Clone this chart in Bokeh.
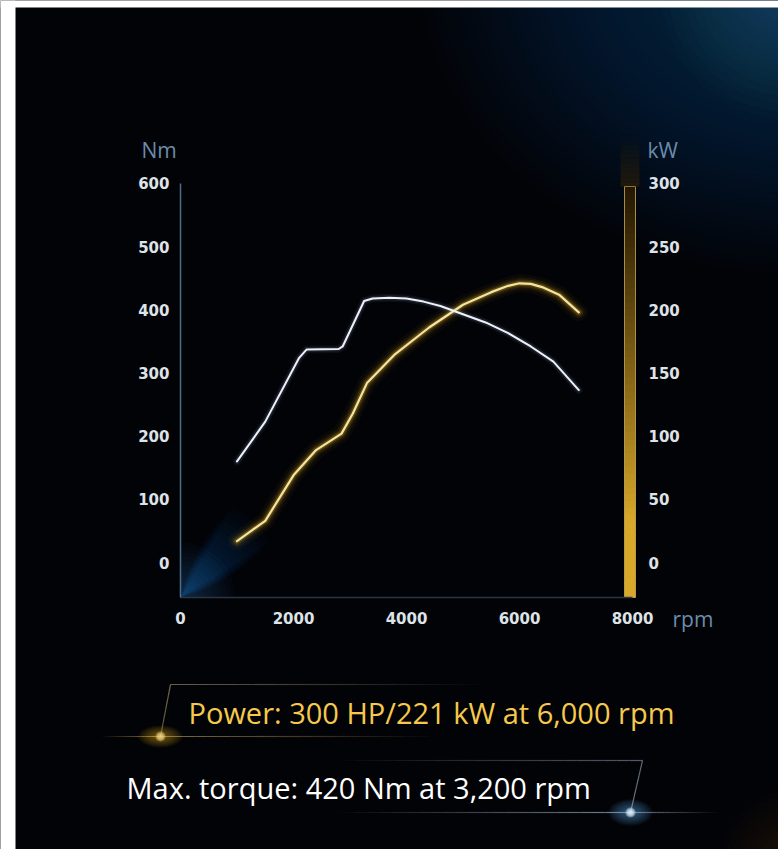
import numpy as np
from bokeh.plotting import figure
from bokeh.models import Range1d, LinearAxis, FixedTicker, Label
from bokeh.embed import file_html
from bokeh.resources import INLINE

# ---------------- data ----------------
torque_rpm = [1000, 1500, 2100, 2230, 2800, 2870, 3250, 3400, 3700, 4000, 4300, 4600, 5000, 5400, 5800, 6200, 6600, 7050]
torque_nm = [160, 223, 324, 337, 338, 342, 414, 418, 419, 418, 413, 406, 393, 380, 363, 342, 318, 273]

power_rpm = [1000, 1500, 2000, 2400, 2850, 3050, 3300, 3800, 4400, 5000, 5500, 5800, 6000, 6200, 6400, 6700, 7050]
power_kw = [17, 33, 69, 89, 102, 118, 142, 165, 186, 204, 214, 219, 221, 220.5, 218, 212, 198]

rpm_ticks = [0, 2000, 4000, 6000, 8000]
nm_ticks = [0, 100, 200, 300, 400, 500, 600]
kw_ticks = [0, 50, 100, 150, 200, 250, 300]

nm_title = "Nm"
kw_title = "kW"
rpm_title = "rpm"
power_text = "Power: 300 HP/221 kW at 6,000 rpm"
torque_text = "Max. torque: 420 Nm at 3,200 rpm"

# ---------------- geometry (page pixels -> data) ----------------
W, H = 778, 849
X_ORIG, PX_PER_RPM = 180.0, 0.0565
Y_ORIG, PX_PER_NM = 562.0, 0.6317
NM_PER_KW = 2.0


def dx(px):
    return (px - X_ORIG) / PX_PER_RPM


def dy(py):
    return (Y_ORIG - py) / PX_PER_NM


Y_AXIS_BOTTOM = dy(597)
BG = "#020307"

p = figure(width=W, height=H, title=None,
           x_range=Range1d(dx(0), dx(W)),
           y_range=Range1d(dy(H), dy(0)),
           output_backend="svg", toolbar_location=None,
           min_border=0, min_border_left=0, min_border_right=0,
           min_border_top=0, min_border_bottom=0,
           background_fill_color=BG, border_fill_color=BG,
           outline_line_color=None)
p.extra_y_ranges = {"kw": Range1d(dy(H) / NM_PER_KW, dy(0) / NM_PER_KW)}
p.grid.visible = False


def glow(px, py, color, rmax, n, alpha, rmin=6, aspect=1.0):
    rs = np.linspace(rmax, rmin, n)
    p.ellipse(x=[dx(px)] * n, y=[dy(py)] * n, width=list(2 * rs), height=list(2 * rs * aspect),
              width_units="screen", height_units="screen",
              fill_color=color, fill_alpha=alpha, line_color=None)


def fade_line(x0, y0, x1, y1, color, a0, a1, width=1.2, n=24):
    t = np.linspace(0, 1, n + 1)
    xs = x0 + (x1 - x0) * t
    ys = y0 + (y1 - y0) * t
    alphas = list(a0 + (a1 - a0) * (t[:-1] + t[1:]) / 2)
    p.segment(x0=[dx(v) for v in xs[:-1]], y0=[dy(v) for v in ys[:-1]],
              x1=[dx(v) for v in xs[1:]], y1=[dy(v) for v in ys[1:]],
              line_color=color, line_alpha=alphas, line_width=width)


# background atmosphere (top-right haze, faint warm corner bottom-right)
glow(800, -30, "#3d6480", 380, 40, 0.022, rmin=20, aspect=0.8)
glow(790, -10, "#4f7a98", 130, 16, 0.025, rmin=10)
glow(790, 860, "#5a3210", 70, 12, 0.03, rmin=8)

# white edge of the original picture
p.quad(left=[dx(0)], right=[dx(15)], bottom=[dy(H)], top=[dy(0)], fill_color="white", line_color=None)
p.quad(left=[dx(0)], right=[dx(W)], bottom=[dy(7)], top=[dy(0)], fill_color="white", line_color=None)

# soft blue light at the origin
ox, oy = 0, Y_AXIS_BOTTOM
for k, r in enumerate(np.linspace(105, 12, 18)):
    a0 = 0.55 - 0.3 * k / 17
    a1 = 1.05 + 0.3 * k / 17
    p.wedge(x=[ox], y=[oy], radius=[r], radius_units="screen",
            start_angle=a0, end_angle=a1, fill_color="#2f86c8", fill_alpha=0.022, line_color=None)
for r in np.linspace(55, 6, 12):
    p.wedge(x=[ox], y=[oy], radius=[r], radius_units="screen",
            start_angle=0.0, end_angle=1.5708, fill_color="#3a8ccc", fill_alpha=0.03, line_color=None)

# yellow kW bar with gradient
bar_l, bar_r = dx(624), dx(635)
n_seg = 60
ys = np.linspace(186, 597, n_seg + 1)
c_top = np.array([0x26, 0x18, 0x04])
c_bot = np.array([0xd8, 0xa8, 0x28])
cols = []
for i in range(n_seg):
    t = ((ys[i] + ys[i + 1]) / 2 - 186) / (597 - 186)
    t = min(1.0, t ** 1.1 * 1.25)
    c = (c_top + (c_bot - c_top) * t).astype(int)
    cols.append("#%02x%02x%02x" % tuple(c))
p.quad(left=[bar_l] * n_seg, right=[bar_r] * n_seg,
       top=[dy(v - 0.8) for v in ys[:-1]], bottom=[dy(v) for v in ys[1:]],
       fill_color=cols, line_color=None)
p.quad(left=[bar_l], right=[bar_r], top=[dy(186)], bottom=[dy(597)],
       fill_color=None, line_color="#c9aa5c", line_width=1, line_alpha=0.8)
# faint glow above the bar
gys = np.linspace(135, 186, 12)
p.quad(left=[dx(620)] * 11, right=[dx(639)] * 11,
       top=[dy(v) for v in gys[:-1]], bottom=[dy(v) for v in gys[1:]],
       fill_color="#3a2806", fill_alpha=list(np.linspace(0.03, 0.5, 11)), line_color=None)

# curves
pw_nm = [v * NM_PER_KW for v in power_kw]
for w, a in [(18, 0.04), (12, 0.07), (8, 0.12), (5, 0.22)]:
    p.line(power_rpm, pw_nm, line_color="#f2b21e", line_width=w, line_alpha=a,
           line_join="round", line_cap="round")
p.line(power_rpm, pw_nm, line_color="#f2e4a4", line_width=2.2, line_join="round", line_cap="round")

for w, a in [(8, 0.05), (5, 0.1)]:
    p.line(torque_rpm, torque_nm, line_color="#b8d0ff", line_width=w, line_alpha=a,
           line_join="round", line_cap="round")
p.line(torque_rpm, torque_nm, line_color="#eef2f8", line_width=2.0, line_join="round", line_cap="round")

# decorative frames around the key figures
fade_line(170, 684, 490, 684, "#8a8068", 0.75, 0.0)
fade_line(170, 684, 160, 736, "#9a8a60", 0.8, 0.6)
fade_line(160, 736, 440, 736, "#a08850", 0.8, 0.0)
fade_line(160, 736, 100, 736, "#c89a30", 0.8, 0.0)
glow(160, 736, "#f5b41e", 22, 10, 0.06, rmin=3, aspect=0.5)
glow(160, 736, "#ffe08a", 5, 4, 0.35, rmin=1.5)

fade_line(642, 760, 330, 760, "#6a7482", 0.8, 0.0)
fade_line(642, 760, 630, 812, "#8a98a8", 0.7, 0.8)
fade_line(630, 812, 330, 812, "#8a9aac", 0.85, 0.0)
fade_line(630, 812, 720, 812, "#8a9aac", 0.8, 0.0)
glow(630, 812, "#6ab4ff", 22, 10, 0.06, rmin=3, aspect=0.6)
glow(630, 812, "#e8f4ff", 5, 4, 0.4, rmin=1.5)

# ---------------- axes ----------------
LABEL_FONT = "DejaVu Sans"
LABEL_COLOR = "#dfe3e8"
LABEL_SIZE = "15px"


def style_axis(ax, standoff):
    ax.major_tick_line_color = None
    ax.minor_tick_line_color = None
    ax.major_tick_out = 0
    ax.major_tick_in = 0
    ax.major_label_standoff = standoff
    ax.major_label_text_font = LABEL_FONT
    ax.major_label_text_font_size = LABEL_SIZE
    ax.major_label_text_font_style = "bold"
    ax.major_label_text_color = LABEL_COLOR


xa = p.below[0]
xa.fixed_location = Y_AXIS_BOTTOM
xa.ticker = FixedTicker(ticks=rpm_ticks)
xa.bounds = (0, rpm_ticks[-1])
xa.axis_line_color = "#2a3644"
xa.axis_line_width = 1.5
style_axis(xa, 14)

ya = p.left[0]
ya.fixed_location = 0
ya.ticker = FixedTicker(ticks=nm_ticks)
ya.bounds = (Y_AXIS_BOTTOM, nm_ticks[-1])
ya.axis_line_color = "#4e6d8c"
ya.axis_line_width = 1.5
style_axis(ya, 11)

yr = LinearAxis(y_range_name="kw", fixed_location=rpm_ticks[-1])
yr.ticker = FixedTicker(ticks=kw_ticks)
yr.bounds = (Y_AXIS_BOTTOM / NM_PER_KW, kw_ticks[-1])
yr.axis_line_color = None
style_axis(yr, 16)
p.add_layout(yr, "right")

# ---------------- texts ----------------
TITLE_COLOR = "#6a8cab"
for txt, px, py in [(nm_title, 141, 149), (kw_title, 647, 149), (rpm_title, 672, 618)]:
    p.add_layout(Label(x=dx(px), y=dy(py), text=txt, text_align="left",
                       text_baseline="alphabetic", text_font="Open Sans",
                       text_font_size="21px", text_color=TITLE_COLOR))

p.add_layout(Label(x=dx(188), y=dy(711.5), text=power_text, text_align="left",
                   text_baseline="alphabetic", text_font="Open Sans",
                   text_font_size="29px", text_color="#f6c94c"))
p.add_layout(Label(x=dx(126), y=dy(786.5), text=torque_text, text_align="left",
                   text_baseline="alphabetic", text_font="Open Sans",
                   text_font_size="29px", text_color="#ffffff"))

open("out.html", "w").write(file_html(p, INLINE))
